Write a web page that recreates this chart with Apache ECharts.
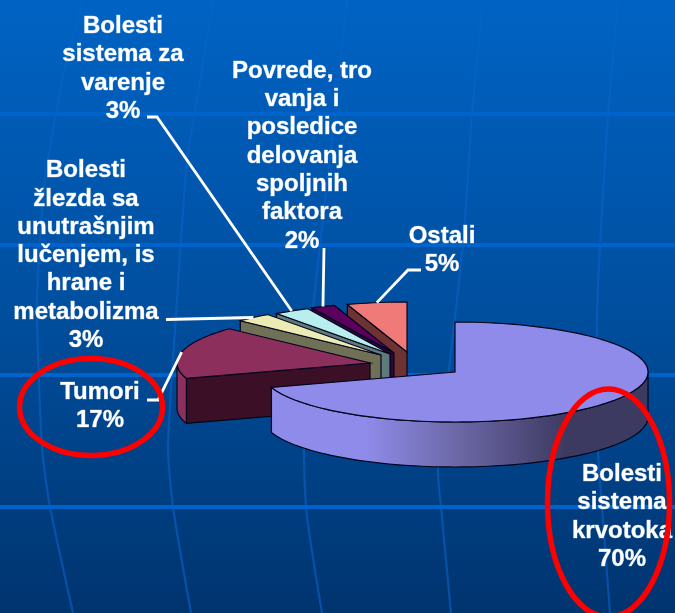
<!DOCTYPE html>
<html>
<head>
<meta charset="utf-8">
<style>html,body{margin:0;padding:0;background:#004c9c}#c{width:675px;height:613px}</style>
<script src="https://cdn.jsdelivr.net/npm/echarts@6/dist/echarts.min.js"></script>
</head>
<body>
<div id="c"></div>
<script>
// DATA
const categories = [
  "Bolesti\nsistema\nkrvotoka",
  "Tumori",
  "Bolesti\nžlezda sa\nunutrašnjim\nlučenjem, is\nhrane i\nmetabolizma",
  "Bolesti\nsistema za\nvarenje",
  "Povrede, tro\nvanja i\nposledice\ndelovanja\nspoljnih\nfaktora",
  "Ostali"
];
const percents = [70, 17, 3, 3, 2, 5];

// STYLE / LAYOUT
const topColors  = ["#8f8bea", "#8c2f5d", "#ecebb4", "#b9eeee", "#5c0060", "#f07a78"];
const faceColors = ["#8f8bea", "#3b1026", "#6f7055", "#5d7b7c", "#2c0638", "#6e3232"];
const rimColors  = ["#8f8bea", "#8c2f5d", "#6f7055", "#5d7b7c", "#2c0638", "#6e3232"];
const RX = 193, RY = 50, DEPTH = 45;
const apexes = [[455,372],[370,363],[381,355],[390,354],[394,353],[407,352]];
const labelCentres = [[622,517],[100,406.5],[86,255.5],[123,69],[302,156],[442,250.5]];
const leaderStarts = [null,
  [[147,400],[158,400]],
  [[166,319.5]],
  [[147,117],[157,117]],
  [[324,248]],
  [[421,270],[408,270]]
];
const total = percents.reduce((a,b)=>a+b,0);
const starts = [];
percents.reduce((acc,v,i)=>{starts[i]=acc;return acc+v;},0);

function pt(apex, deg, drop){
  const r = deg*Math.PI/180;
  return [apex[0]+RX*Math.sin(r), apex[1]-RY*Math.cos(r)+(drop||0)];
}
function arc(apex, a0, a1, drop){
  const n = Math.max(2, Math.ceil((a1-a0)/2)), out=[];
  for(let k=0;k<=n;k++) out.push(pt(apex, a0+(a1-a0)*k/n, drop));
  return out;
}
const OUTLINE = {stroke:"#04041c", lineWidth:1.2};

function renderItem(params, api){
  const i = params.dataIndex, v = api.value(0);
  const a0 = starts[i]/total*360, a1 = a0 + v/total*360;
  const apex = apexes[i];
  const z = 10 + (percents.length - i)*3;
  const kids = [];
  // cut face at the starting edge
  const corner = pt(apex,a0);
  if(i>0) kids.push({type:"polygon", z2:z,
    shape:{points:[corner,apex,[apex[0],apex[1]+DEPTH],[corner[0],corner[1]+DEPTH]]},
    style:Object.assign({fill:faceColors[i]},OUTLINE)});
  // outer rim, only where it faces the viewer
  const r0 = Math.max(a0,90), r1 = Math.min(a1,270);
  if(r1>r0){
    const upper = arc(apex,r0,r1,0), lower = arc(apex,r0,r1,DEPTH).reverse();
    const fill = i===0 ? {type:"linear",x:365,y:0,x2:565,y2:0,global:true,colorStops:[
      {offset:0,color:"#8f8bea"},{offset:0.45,color:"#6d69a8"},{offset:1,color:"#3d3a62"}]} : rimColors[i];
    kids.push({type:"polygon", z2:z+1, shape:{points:upper.concat(lower)},
      style:Object.assign({fill},OUTLINE)});
  }
  // top surface
  kids.push({type:"polygon", z2:z+2, shape:{points:[apex].concat(arc(apex,a0,a1,0))},
    style:Object.assign({fill:topColors[i]},OUTLINE)});
  // leader line
  if(leaderStarts[i]){
    const end = pt(apex,(a0+a1)/2);
    kids.push({type:"polyline", z2:60, shape:{points:leaderStarts[i].concat([end])},
      style:{fill:null,stroke:"#ffffff",lineWidth:2.8}});
  }
  // label
  kids.push({type:"text", z2:70, x:labelCentres[i][0], y:labelCentres[i][1],
    style:{text:categories[i]+"\n"+v+"%", fill:"#ffffff", align:"center", verticalAlign:"middle",
      font:"bold 24px 'Liberation Sans', Arial, sans-serif", lineHeight:28.3,
      stroke:"rgba(255,255,255,0.55)", lineWidth:0.6}});
  return {type:"group", children:kids};
}

// backdrop
const backdrop = [{type:"rect", z:0, shape:{x:0,y:0,width:675,height:613},
  style:{fill:{type:"linear",x:0,y:0,x2:0,y2:1,colorStops:[
    {offset:0,color:"#0063c4"},{offset:0.5,color:"#004f9f"},{offset:1,color:"#00346f"}]}}}];
[
  [[83,0],[65,67],[45,180],[37,300],[42,447],[50,507],[73,613]],
  [[213,0],[197,100],[187,160],[177,300],[168,447],[173,507],[191,613]],
  [[347,0],[335,114],[320,245],[304,400],[306,507],[322,613]],
  [[483,0],[472,114],[463,245],[438,470],[441,507],[451,613]],
  [[618,0],[608,114],[600,245],[597,320],[598,450],[602,507],[610,613]]
].forEach(p=>backdrop.push({type:"polyline",z:1,shape:{points:p,smooth:0.2},
  style:{fill:null,stroke:"rgba(10,98,200,0.6)",lineWidth:2.2}}));
[114,245,375,507].forEach(y=>backdrop.push({type:"line",z:1,shape:{x1:0,y1:y,x2:675,y2:y},
  style:{stroke:"#0063cc",lineWidth:4}}));
// red hand-drawn rings
backdrop.push({type:"ellipse",z:50,shape:{cx:91,cy:407,rx:71.5,ry:48.5},
  style:{fill:null,stroke:"#ff0000",lineWidth:5.5}});
backdrop.push({type:"ellipse",z:50,shape:{cx:608.5,cy:503,rx:61,ry:114},
  style:{fill:null,stroke:"#ff0000",lineWidth:5.5}});

const chart = echarts.init(document.getElementById("c"), null, {renderer:"canvas"});
chart.setOption({
  animation:false,
  graphic:{elements:backdrop},
  series:[{type:"custom", coordinateSystem:"none", renderItem, z:5, silent:true,
    data:percents.map(v=>[v])}]
});
</script>
</body>
</html>
